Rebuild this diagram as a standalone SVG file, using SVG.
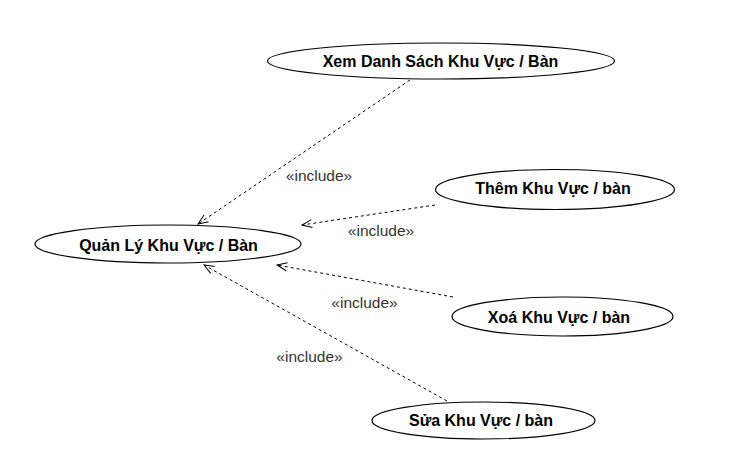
<svg xmlns="http://www.w3.org/2000/svg" width="732" height="472" viewBox="0 0 732 472">
<defs>
<style>
.uc { fill: #ffffff; stroke: #000000; stroke-width: 1.2; }
.ut { font-family: "Liberation Sans", Arial, sans-serif; font-size: 16px; font-weight: bold; fill: #000000; text-anchor: middle; }
.cn { fill: none; stroke: #000000; stroke-width: 1; stroke-dasharray: 3 3; }
.lb { font-family: "Liberation Sans", Arial, sans-serif; font-size: 15.5px; fill: #333333; text-anchor: middle; }
</style>
<marker id="open" viewBox="0 0 12 10" refX="11" refY="5" markerWidth="12" markerHeight="10" markerUnits="userSpaceOnUse" orient="auto">
<path d="M1,1 L11,5 L1,9" fill="none" stroke="#000000" stroke-width="1"/>
</marker>
</defs>
<rect width="732" height="472" fill="#ffffff"/>
<g id="connectors">
<line class="cn" x1="410" y1="80" x2="198" y2="224" marker-end="url(#open)"/>
<line class="cn" x1="435" y1="205" x2="302" y2="225" marker-end="url(#open)"/>
<line class="cn" x1="453" y1="297" x2="277" y2="265" marker-end="url(#open)"/>
<line class="cn" x1="447" y1="401" x2="204" y2="265" marker-end="url(#open)"/>
<text class="lb" x="319" y="181">«include»</text>
<text class="lb" x="381" y="236">«include»</text>
<text class="lb" x="364.5" y="308">«include»</text>
<text class="lb" x="309.5" y="362">«include»</text>
</g>
<g id="xem">
<ellipse class="uc" cx="441" cy="61" rx="173.5" ry="18"/>
<text class="ut" x="440.5" y="67">Xem Danh Sách Khu Vực / Bàn</text>
</g>
<g id="quanly">
<ellipse class="uc" cx="168" cy="244" rx="133" ry="19"/>
<text class="ut" x="168.5" y="250.5">Quản Lý Khu Vực / Bàn</text>
</g>
<g id="them">
<ellipse class="uc" cx="555" cy="189.5" rx="119.5" ry="20"/>
<text class="ut" x="553" y="194">Thêm Khu Vực / bàn</text>
</g>
<g id="xoa">
<ellipse class="uc" cx="562.5" cy="316.5" rx="110.5" ry="19.5"/>
<text class="ut" x="559" y="322.5">Xoá Khu Vực / bàn</text>
</g>
<g id="sua">
<ellipse class="uc" cx="483.5" cy="420.5" rx="111.5" ry="18.5"/>
<text class="ut" x="481" y="426">Sửa Khu Vực / bàn</text>
</g>
</svg>
